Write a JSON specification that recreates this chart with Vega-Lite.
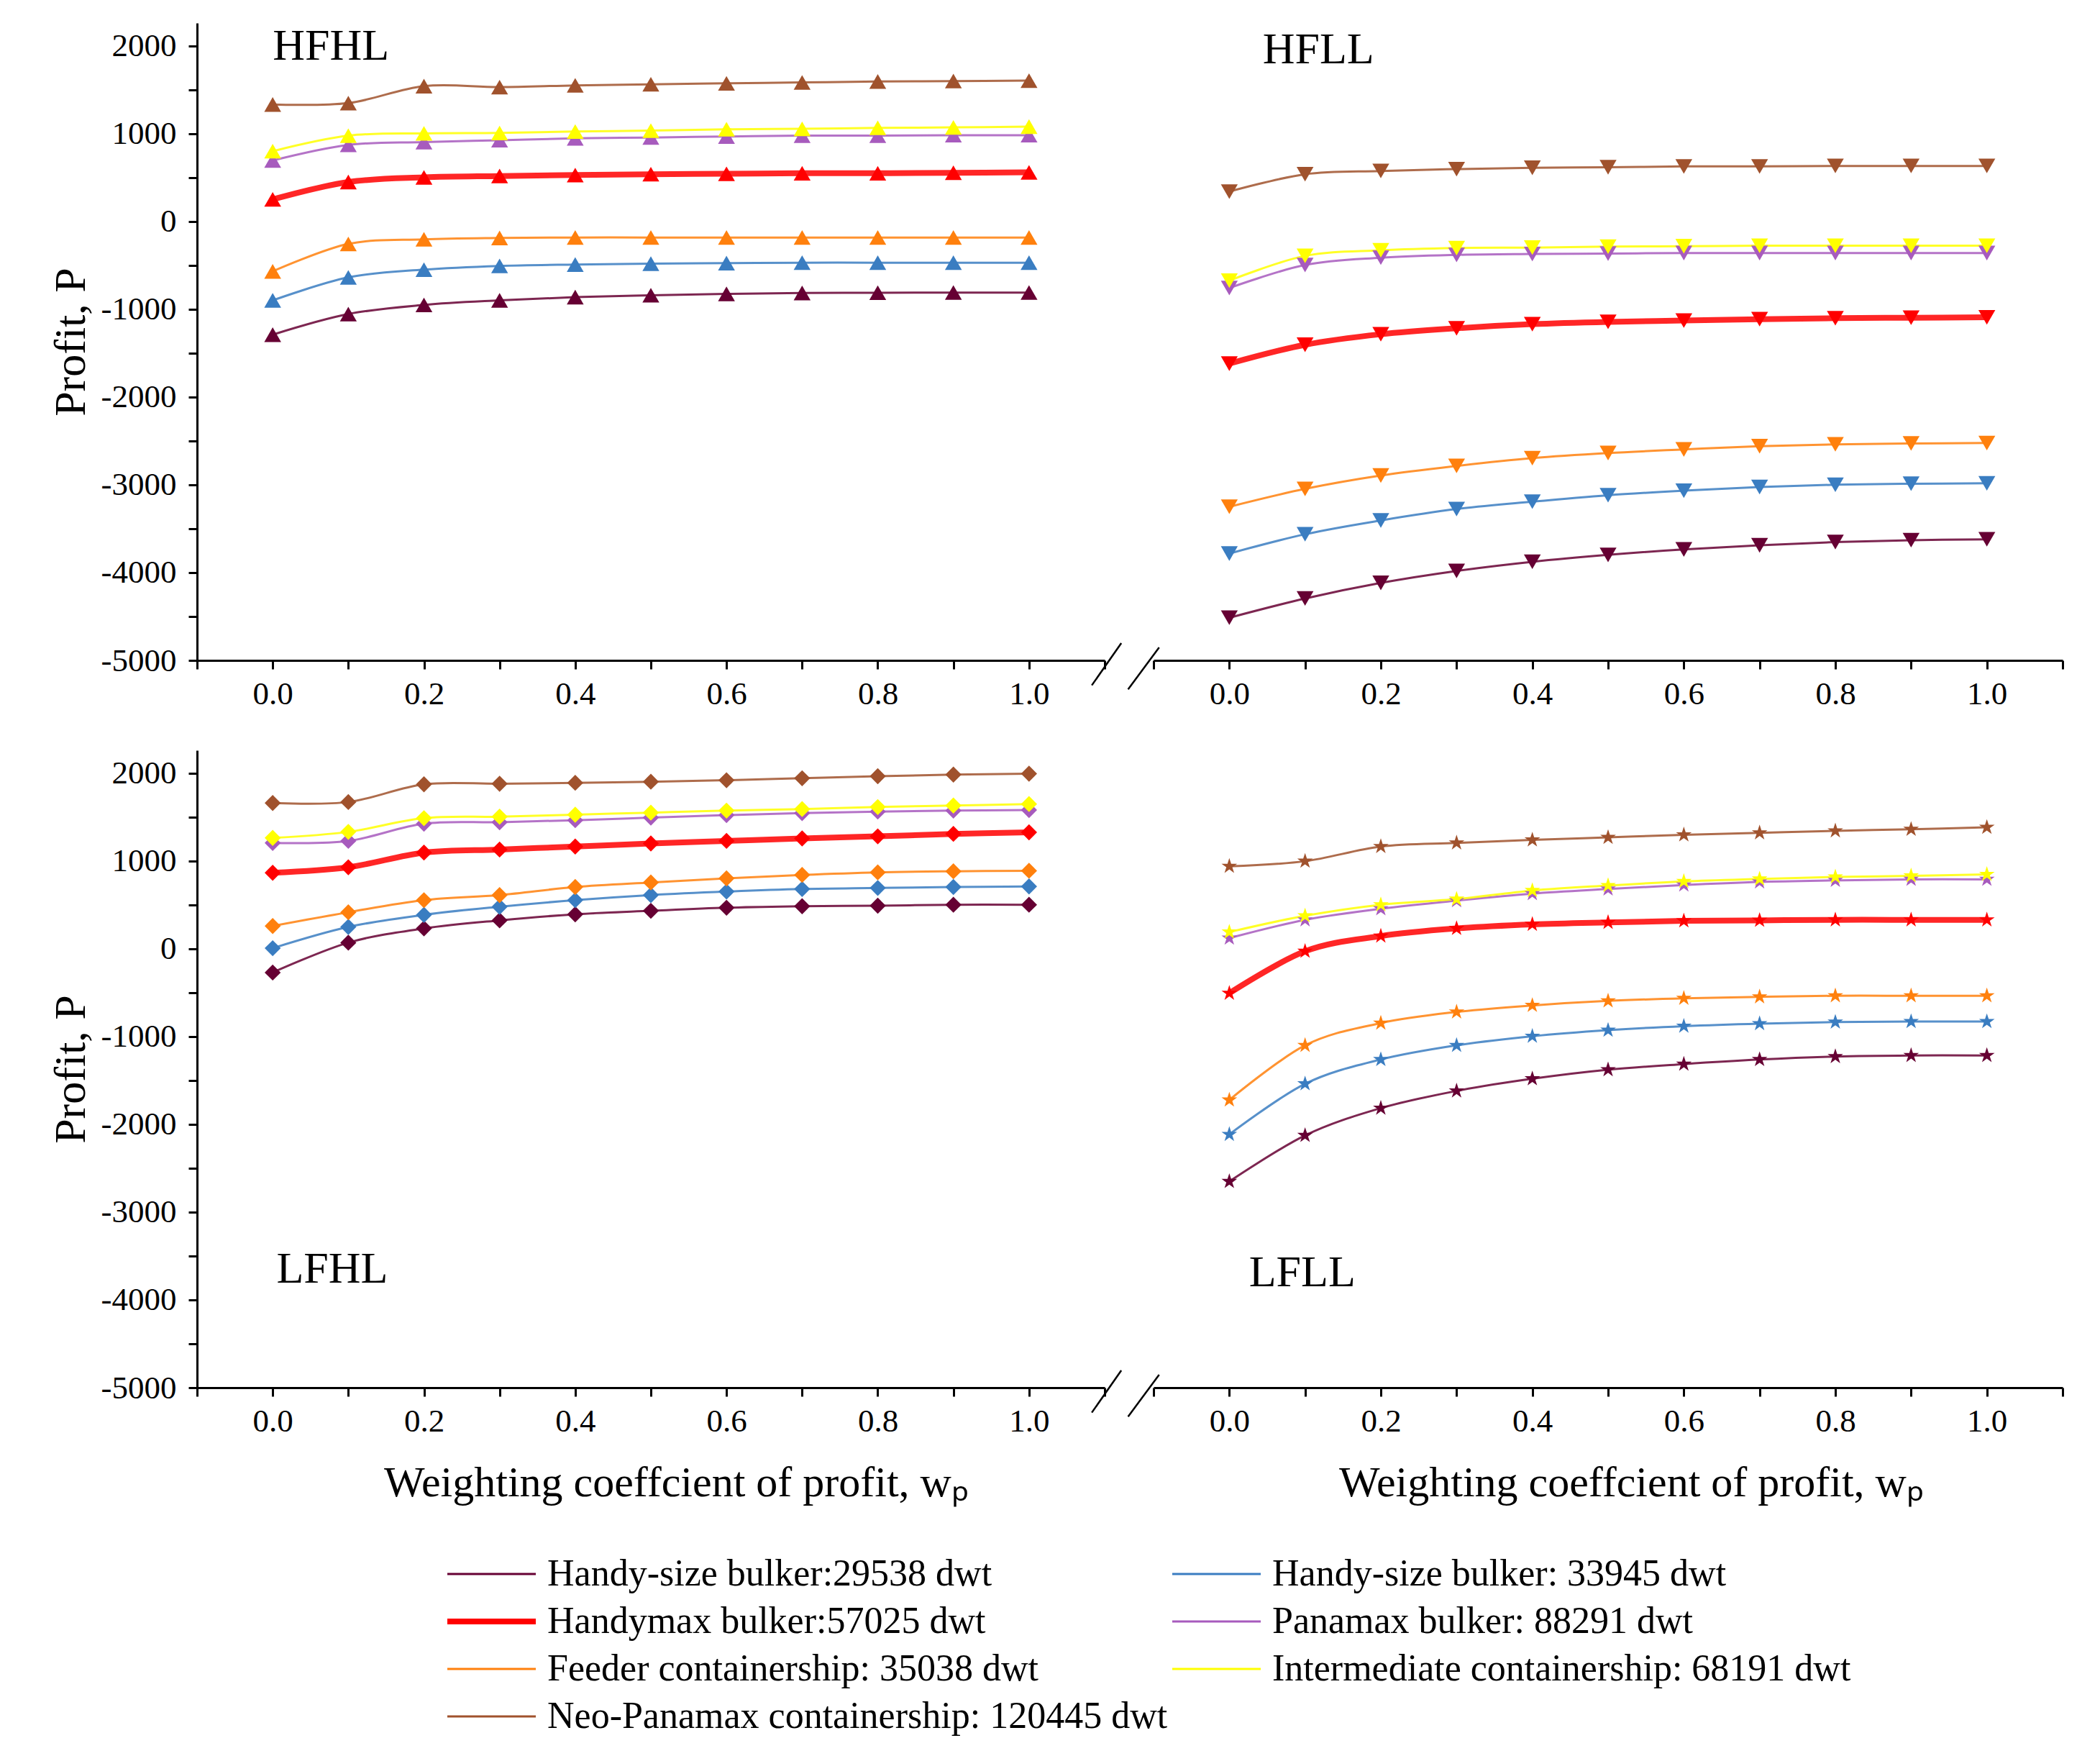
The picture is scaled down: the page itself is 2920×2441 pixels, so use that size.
{
  "$schema": "https://vega.github.io/schema/vega-lite/v6.json",
  "padding": {"left": 67, "top": 32, "right": 50, "bottom": 30},
  "config": {
    "font": "Liberation Serif",
    "view": {"stroke": null},
    "axis": {
      "grid": false,
      "domainColor": "#000",
      "domainWidth": 3,
      "tickColor": "#000",
      "tickWidth": 3,
      "tickSize": 12,
      "labelFont": "Liberation Serif",
      "labelFontSize": 45,
      "labelColor": "#000",
      "labelOverlap": false,
      "titleFont": "Liberation Serif",
      "titleFontSize": 62,
      "titleFontWeight": "normal",
      "titleColor": "#000"
    },
    "axisX": {"labelPadding": 12, "titlePadding": 34},
    "axisY": {"labelPadding": 17, "titlePadding": 10},
    "legend": {
      "orient": "none",
      "legendX": 344,
      "legendY": 2128,
      "columns": 2,
      "symbolType": "stroke",
      "symbolSize": 15129,
      "symbolOpacity": 1,
      "clipHeight": 56,
      "labelFont": "Liberation Serif",
      "labelFontSize": 52,
      "labelColor": "#000",
      "labelLimit": 3000,
      "labelOffset": 12,
      "rowPadding": 10,
      "columnPadding": 2,
      "padding": 0
    }
  },
  "datasets": {
    "profit": [
      {"panel": "HFHL", "series": "Handy-size bulker:29538 dwt", "wp": 0, "profit": -1290},
      {"panel": "HFHL", "series": "Handy-size bulker:29538 dwt", "wp": 0.1, "profit": -1055},
      {"panel": "HFHL", "series": "Handy-size bulker:29538 dwt", "wp": 0.2, "profit": -951},
      {"panel": "HFHL", "series": "Handy-size bulker:29538 dwt", "wp": 0.3, "profit": -899},
      {"panel": "HFHL", "series": "Handy-size bulker:29538 dwt", "wp": 0.4, "profit": -862},
      {"panel": "HFHL", "series": "Handy-size bulker:29538 dwt", "wp": 0.5, "profit": -841},
      {"panel": "HFHL", "series": "Handy-size bulker:29538 dwt", "wp": 0.6, "profit": -825},
      {"panel": "HFHL", "series": "Handy-size bulker:29538 dwt", "wp": 0.7, "profit": -815},
      {"panel": "HFHL", "series": "Handy-size bulker:29538 dwt", "wp": 0.8, "profit": -812},
      {"panel": "HFHL", "series": "Handy-size bulker:29538 dwt", "wp": 0.9, "profit": -810},
      {"panel": "HFHL", "series": "Handy-size bulker:29538 dwt", "wp": 1.0, "profit": -810},
      {"panel": "HFHL", "series": "Handy-size bulker: 33945 dwt", "wp": 0, "profit": -899},
      {"panel": "HFHL", "series": "Handy-size bulker: 33945 dwt", "wp": 0.1, "profit": -637},
      {"panel": "HFHL", "series": "Handy-size bulker: 33945 dwt", "wp": 0.2, "profit": -549},
      {"panel": "HFHL", "series": "Handy-size bulker: 33945 dwt", "wp": 0.3, "profit": -507},
      {"panel": "HFHL", "series": "Handy-size bulker: 33945 dwt", "wp": 0.4, "profit": -491},
      {"panel": "HFHL", "series": "Handy-size bulker: 33945 dwt", "wp": 0.5, "profit": -481},
      {"panel": "HFHL", "series": "Handy-size bulker: 33945 dwt", "wp": 0.6, "profit": -475},
      {"panel": "HFHL", "series": "Handy-size bulker: 33945 dwt", "wp": 0.7, "profit": -470},
      {"panel": "HFHL", "series": "Handy-size bulker: 33945 dwt", "wp": 0.8, "profit": -470},
      {"panel": "HFHL", "series": "Handy-size bulker: 33945 dwt", "wp": 0.9, "profit": -470},
      {"panel": "HFHL", "series": "Handy-size bulker: 33945 dwt", "wp": 1.0, "profit": -470},
      {"panel": "HFHL", "series": "Handymax bulker:57025 dwt", "wp": 0, "profit": 251},
      {"panel": "HFHL", "series": "Handymax bulker:57025 dwt", "wp": 0.1, "profit": 449},
      {"panel": "HFHL", "series": "Handymax bulker:57025 dwt", "wp": 0.2, "profit": 502},
      {"panel": "HFHL", "series": "Handymax bulker:57025 dwt", "wp": 0.3, "profit": 517},
      {"panel": "HFHL", "series": "Handymax bulker:57025 dwt", "wp": 0.4, "profit": 528},
      {"panel": "HFHL", "series": "Handymax bulker:57025 dwt", "wp": 0.5, "profit": 538},
      {"panel": "HFHL", "series": "Handymax bulker:57025 dwt", "wp": 0.6, "profit": 543},
      {"panel": "HFHL", "series": "Handymax bulker:57025 dwt", "wp": 0.7, "profit": 549},
      {"panel": "HFHL", "series": "Handymax bulker:57025 dwt", "wp": 0.8, "profit": 549},
      {"panel": "HFHL", "series": "Handymax bulker:57025 dwt", "wp": 0.9, "profit": 554},
      {"panel": "HFHL", "series": "Handymax bulker:57025 dwt", "wp": 1.0, "profit": 559},
      {"panel": "HFHL", "series": "Panamax bulker: 88291 dwt", "wp": 0, "profit": 695},
      {"panel": "HFHL", "series": "Panamax bulker: 88291 dwt", "wp": 0.1, "profit": 872},
      {"panel": "HFHL", "series": "Panamax bulker: 88291 dwt", "wp": 0.2, "profit": 904},
      {"panel": "HFHL", "series": "Panamax bulker: 88291 dwt", "wp": 0.3, "profit": 925},
      {"panel": "HFHL", "series": "Panamax bulker: 88291 dwt", "wp": 0.4, "profit": 946},
      {"panel": "HFHL", "series": "Panamax bulker: 88291 dwt", "wp": 0.5, "profit": 956},
      {"panel": "HFHL", "series": "Panamax bulker: 88291 dwt", "wp": 0.6, "profit": 967},
      {"panel": "HFHL", "series": "Panamax bulker: 88291 dwt", "wp": 0.7, "profit": 977},
      {"panel": "HFHL", "series": "Panamax bulker: 88291 dwt", "wp": 0.8, "profit": 977},
      {"panel": "HFHL", "series": "Panamax bulker: 88291 dwt", "wp": 0.9, "profit": 982},
      {"panel": "HFHL", "series": "Panamax bulker: 88291 dwt", "wp": 1.0, "profit": 982},
      {"panel": "HFHL", "series": "Feeder containership: 35038 dwt", "wp": 0, "profit": -569},
      {"panel": "HFHL", "series": "Feeder containership: 35038 dwt", "wp": 0.1, "profit": -256},
      {"panel": "HFHL", "series": "Feeder containership: 35038 dwt", "wp": 0.2, "profit": -204},
      {"panel": "HFHL", "series": "Feeder containership: 35038 dwt", "wp": 0.3, "profit": -188},
      {"panel": "HFHL", "series": "Feeder containership: 35038 dwt", "wp": 0.4, "profit": -183},
      {"panel": "HFHL", "series": "Feeder containership: 35038 dwt", "wp": 0.5, "profit": -183},
      {"panel": "HFHL", "series": "Feeder containership: 35038 dwt", "wp": 0.6, "profit": -183},
      {"panel": "HFHL", "series": "Feeder containership: 35038 dwt", "wp": 0.7, "profit": -183},
      {"panel": "HFHL", "series": "Feeder containership: 35038 dwt", "wp": 0.8, "profit": -183},
      {"panel": "HFHL", "series": "Feeder containership: 35038 dwt", "wp": 0.9, "profit": -183},
      {"panel": "HFHL", "series": "Feeder containership: 35038 dwt", "wp": 1.0, "profit": -183},
      {"panel": "HFHL", "series": "Intermediate containership: 68191 dwt", "wp": 0, "profit": 800},
      {"panel": "HFHL", "series": "Intermediate containership: 68191 dwt", "wp": 0.1, "profit": 977},
      {"panel": "HFHL", "series": "Intermediate containership: 68191 dwt", "wp": 0.2, "profit": 1003},
      {"panel": "HFHL", "series": "Intermediate containership: 68191 dwt", "wp": 0.3, "profit": 1008},
      {"panel": "HFHL", "series": "Intermediate containership: 68191 dwt", "wp": 0.4, "profit": 1024},
      {"panel": "HFHL", "series": "Intermediate containership: 68191 dwt", "wp": 0.5, "profit": 1034},
      {"panel": "HFHL", "series": "Intermediate containership: 68191 dwt", "wp": 0.6, "profit": 1050},
      {"panel": "HFHL", "series": "Intermediate containership: 68191 dwt", "wp": 0.7, "profit": 1055},
      {"panel": "HFHL", "series": "Intermediate containership: 68191 dwt", "wp": 0.8, "profit": 1066},
      {"panel": "HFHL", "series": "Intermediate containership: 68191 dwt", "wp": 0.9, "profit": 1071},
      {"panel": "HFHL", "series": "Intermediate containership: 68191 dwt", "wp": 1.0, "profit": 1080},
      {"panel": "HFHL", "series": "Neo-Panamax containership: 120445 dwt", "wp": 0, "profit": 1332},
      {"panel": "HFHL", "series": "Neo-Panamax containership: 120445 dwt", "wp": 0.1, "profit": 1348},
      {"panel": "HFHL", "series": "Neo-Panamax containership: 120445 dwt", "wp": 0.2, "profit": 1541},
      {"panel": "HFHL", "series": "Neo-Panamax containership: 120445 dwt", "wp": 0.3, "profit": 1530},
      {"panel": "HFHL", "series": "Neo-Panamax containership: 120445 dwt", "wp": 0.4, "profit": 1550},
      {"panel": "HFHL", "series": "Neo-Panamax containership: 120445 dwt", "wp": 0.5, "profit": 1562},
      {"panel": "HFHL", "series": "Neo-Panamax containership: 120445 dwt", "wp": 0.6, "profit": 1573},
      {"panel": "HFHL", "series": "Neo-Panamax containership: 120445 dwt", "wp": 0.7, "profit": 1583},
      {"panel": "HFHL", "series": "Neo-Panamax containership: 120445 dwt", "wp": 0.8, "profit": 1594},
      {"panel": "HFHL", "series": "Neo-Panamax containership: 120445 dwt", "wp": 0.9, "profit": 1599},
      {"panel": "HFHL", "series": "Neo-Panamax containership: 120445 dwt", "wp": 1.0, "profit": 1604},

      {"panel": "HFLL", "series": "Handy-size bulker:29538 dwt", "wp": 0, "profit": -4514},
      {"panel": "HFLL", "series": "Handy-size bulker:29538 dwt", "wp": 0.1, "profit": -4295},
      {"panel": "HFLL", "series": "Handy-size bulker:29538 dwt", "wp": 0.2, "profit": -4117},
      {"panel": "HFLL", "series": "Handy-size bulker:29538 dwt", "wp": 0.3, "profit": -3981},
      {"panel": "HFLL", "series": "Handy-size bulker:29538 dwt", "wp": 0.4, "profit": -3877},
      {"panel": "HFLL", "series": "Handy-size bulker:29538 dwt", "wp": 0.5, "profit": -3798},
      {"panel": "HFLL", "series": "Handy-size bulker:29538 dwt", "wp": 0.6, "profit": -3736},
      {"panel": "HFLL", "series": "Handy-size bulker:29538 dwt", "wp": 0.7, "profit": -3689},
      {"panel": "HFLL", "series": "Handy-size bulker:29538 dwt", "wp": 0.8, "profit": -3652},
      {"panel": "HFLL", "series": "Handy-size bulker:29538 dwt", "wp": 0.9, "profit": -3631},
      {"panel": "HFLL", "series": "Handy-size bulker:29538 dwt", "wp": 1.0, "profit": -3621},
      {"panel": "HFLL", "series": "Handy-size bulker: 33945 dwt", "wp": 0, "profit": -3783},
      {"panel": "HFLL", "series": "Handy-size bulker: 33945 dwt", "wp": 0.1, "profit": -3563},
      {"panel": "HFLL", "series": "Handy-size bulker: 33945 dwt", "wp": 0.2, "profit": -3406},
      {"panel": "HFLL", "series": "Handy-size bulker: 33945 dwt", "wp": 0.3, "profit": -3276},
      {"panel": "HFLL", "series": "Handy-size bulker: 33945 dwt", "wp": 0.4, "profit": -3192},
      {"panel": "HFLL", "series": "Handy-size bulker: 33945 dwt", "wp": 0.5, "profit": -3119},
      {"panel": "HFLL", "series": "Handy-size bulker: 33945 dwt", "wp": 0.6, "profit": -3067},
      {"panel": "HFLL", "series": "Handy-size bulker: 33945 dwt", "wp": 0.7, "profit": -3025},
      {"panel": "HFLL", "series": "Handy-size bulker: 33945 dwt", "wp": 0.8, "profit": -2999},
      {"panel": "HFLL", "series": "Handy-size bulker: 33945 dwt", "wp": 0.9, "profit": -2988},
      {"panel": "HFLL", "series": "Handy-size bulker: 33945 dwt", "wp": 1.0, "profit": -2983},
      {"panel": "HFLL", "series": "Handymax bulker:57025 dwt", "wp": 0, "profit": -1620},
      {"panel": "HFLL", "series": "Handymax bulker:57025 dwt", "wp": 0.1, "profit": -1405},
      {"panel": "HFLL", "series": "Handymax bulker:57025 dwt", "wp": 0.2, "profit": -1285},
      {"panel": "HFLL", "series": "Handymax bulker:57025 dwt", "wp": 0.3, "profit": -1217},
      {"panel": "HFLL", "series": "Handymax bulker:57025 dwt", "wp": 0.4, "profit": -1170},
      {"panel": "HFLL", "series": "Handymax bulker:57025 dwt", "wp": 0.5, "profit": -1144},
      {"panel": "HFLL", "series": "Handymax bulker:57025 dwt", "wp": 0.6, "profit": -1129},
      {"panel": "HFLL", "series": "Handymax bulker:57025 dwt", "wp": 0.7, "profit": -1113},
      {"panel": "HFLL", "series": "Handymax bulker:57025 dwt", "wp": 0.8, "profit": -1102},
      {"panel": "HFLL", "series": "Handymax bulker:57025 dwt", "wp": 0.9, "profit": -1097},
      {"panel": "HFLL", "series": "Handymax bulker:57025 dwt", "wp": 1.0, "profit": -1092},
      {"panel": "HFLL", "series": "Panamax bulker: 88291 dwt", "wp": 0, "profit": -758},
      {"panel": "HFLL", "series": "Panamax bulker: 88291 dwt", "wp": 0.1, "profit": -496},
      {"panel": "HFLL", "series": "Panamax bulker: 88291 dwt", "wp": 0.2, "profit": -413},
      {"panel": "HFLL", "series": "Panamax bulker: 88291 dwt", "wp": 0.3, "profit": -381},
      {"panel": "HFLL", "series": "Panamax bulker: 88291 dwt", "wp": 0.4, "profit": -371},
      {"panel": "HFLL", "series": "Panamax bulker: 88291 dwt", "wp": 0.5, "profit": -366},
      {"panel": "HFLL", "series": "Panamax bulker: 88291 dwt", "wp": 0.6, "profit": -360},
      {"panel": "HFLL", "series": "Panamax bulker: 88291 dwt", "wp": 0.7, "profit": -360},
      {"panel": "HFLL", "series": "Panamax bulker: 88291 dwt", "wp": 0.8, "profit": -360},
      {"panel": "HFLL", "series": "Panamax bulker: 88291 dwt", "wp": 0.9, "profit": -360},
      {"panel": "HFLL", "series": "Panamax bulker: 88291 dwt", "wp": 1.0, "profit": -360},
      {"panel": "HFLL", "series": "Feeder containership: 35038 dwt", "wp": 0, "profit": -3250},
      {"panel": "HFLL", "series": "Feeder containership: 35038 dwt", "wp": 0.1, "profit": -3046},
      {"panel": "HFLL", "series": "Feeder containership: 35038 dwt", "wp": 0.2, "profit": -2894},
      {"panel": "HFLL", "series": "Feeder containership: 35038 dwt", "wp": 0.3, "profit": -2785},
      {"panel": "HFLL", "series": "Feeder containership: 35038 dwt", "wp": 0.4, "profit": -2696},
      {"panel": "HFLL", "series": "Feeder containership: 35038 dwt", "wp": 0.5, "profit": -2638},
      {"panel": "HFLL", "series": "Feeder containership: 35038 dwt", "wp": 0.6, "profit": -2597},
      {"panel": "HFLL", "series": "Feeder containership: 35038 dwt", "wp": 0.7, "profit": -2560},
      {"panel": "HFLL", "series": "Feeder containership: 35038 dwt", "wp": 0.8, "profit": -2539},
      {"panel": "HFLL", "series": "Feeder containership: 35038 dwt", "wp": 0.9, "profit": -2529},
      {"panel": "HFLL", "series": "Feeder containership: 35038 dwt", "wp": 1.0, "profit": -2524},
      {"panel": "HFLL", "series": "Intermediate containership: 68191 dwt", "wp": 0, "profit": -674},
      {"panel": "HFLL", "series": "Intermediate containership: 68191 dwt", "wp": 0.1, "profit": -392},
      {"panel": "HFLL", "series": "Intermediate containership: 68191 dwt", "wp": 0.2, "profit": -329},
      {"panel": "HFLL", "series": "Intermediate containership: 68191 dwt", "wp": 0.3, "profit": -303},
      {"panel": "HFLL", "series": "Intermediate containership: 68191 dwt", "wp": 0.4, "profit": -298},
      {"panel": "HFLL", "series": "Intermediate containership: 68191 dwt", "wp": 0.5, "profit": -287},
      {"panel": "HFLL", "series": "Intermediate containership: 68191 dwt", "wp": 0.6, "profit": -282},
      {"panel": "HFLL", "series": "Intermediate containership: 68191 dwt", "wp": 0.7, "profit": -277},
      {"panel": "HFLL", "series": "Intermediate containership: 68191 dwt", "wp": 0.8, "profit": -277},
      {"panel": "HFLL", "series": "Intermediate containership: 68191 dwt", "wp": 0.9, "profit": -277},
      {"panel": "HFLL", "series": "Intermediate containership: 68191 dwt", "wp": 1.0, "profit": -277},
      {"panel": "HFLL", "series": "Neo-Panamax containership: 120445 dwt", "wp": 0, "profit": 340},
      {"panel": "HFLL", "series": "Neo-Panamax containership: 120445 dwt", "wp": 0.1, "profit": 538},
      {"panel": "HFLL", "series": "Neo-Panamax containership: 120445 dwt", "wp": 0.2, "profit": 575},
      {"panel": "HFLL", "series": "Neo-Panamax containership: 120445 dwt", "wp": 0.3, "profit": 596},
      {"panel": "HFLL", "series": "Neo-Panamax containership: 120445 dwt", "wp": 0.4, "profit": 611},
      {"panel": "HFLL", "series": "Neo-Panamax containership: 120445 dwt", "wp": 0.5, "profit": 617},
      {"panel": "HFLL", "series": "Neo-Panamax containership: 120445 dwt", "wp": 0.6, "profit": 627},
      {"panel": "HFLL", "series": "Neo-Panamax containership: 120445 dwt", "wp": 0.7, "profit": 627},
      {"panel": "HFLL", "series": "Neo-Panamax containership: 120445 dwt", "wp": 0.8, "profit": 632},
      {"panel": "HFLL", "series": "Neo-Panamax containership: 120445 dwt", "wp": 0.9, "profit": 632},
      {"panel": "HFLL", "series": "Neo-Panamax containership: 120445 dwt", "wp": 1.0, "profit": 632},

      {"panel": "LFHL", "series": "Handy-size bulker:29538 dwt", "wp": 0, "profit": -271},
      {"panel": "LFHL", "series": "Handy-size bulker:29538 dwt", "wp": 0.1, "profit": 69},
      {"panel": "LFHL", "series": "Handy-size bulker:29538 dwt", "wp": 0.2, "profit": 231},
      {"panel": "LFHL", "series": "Handy-size bulker:29538 dwt", "wp": 0.3, "profit": 323},
      {"panel": "LFHL", "series": "Handy-size bulker:29538 dwt", "wp": 0.4, "profit": 392},
      {"panel": "LFHL", "series": "Handy-size bulker:29538 dwt", "wp": 0.5, "profit": 432},
      {"panel": "LFHL", "series": "Handy-size bulker:29538 dwt", "wp": 0.6, "profit": 467},
      {"panel": "LFHL", "series": "Handy-size bulker:29538 dwt", "wp": 0.7, "profit": 484},
      {"panel": "LFHL", "series": "Handy-size bulker:29538 dwt", "wp": 0.8, "profit": 490},
      {"panel": "LFHL", "series": "Handy-size bulker:29538 dwt", "wp": 0.9, "profit": 501},
      {"panel": "LFHL", "series": "Handy-size bulker:29538 dwt", "wp": 1.0, "profit": 501},
      {"panel": "LFHL", "series": "Handy-size bulker: 33945 dwt", "wp": 0, "profit": 6},
      {"panel": "LFHL", "series": "Handy-size bulker: 33945 dwt", "wp": 0.1, "profit": 248},
      {"panel": "LFHL", "series": "Handy-size bulker: 33945 dwt", "wp": 0.2, "profit": 386},
      {"panel": "LFHL", "series": "Handy-size bulker: 33945 dwt", "wp": 0.3, "profit": 478},
      {"panel": "LFHL", "series": "Handy-size bulker: 33945 dwt", "wp": 0.4, "profit": 553},
      {"panel": "LFHL", "series": "Handy-size bulker: 33945 dwt", "wp": 0.5, "profit": 611},
      {"panel": "LFHL", "series": "Handy-size bulker: 33945 dwt", "wp": 0.6, "profit": 651},
      {"panel": "LFHL", "series": "Handy-size bulker: 33945 dwt", "wp": 0.7, "profit": 680},
      {"panel": "LFHL", "series": "Handy-size bulker: 33945 dwt", "wp": 0.8, "profit": 692},
      {"panel": "LFHL", "series": "Handy-size bulker: 33945 dwt", "wp": 0.9, "profit": 703},
      {"panel": "LFHL", "series": "Handy-size bulker: 33945 dwt", "wp": 1.0, "profit": 709},
      {"panel": "LFHL", "series": "Handymax bulker:57025 dwt", "wp": 0, "profit": 865},
      {"panel": "LFHL", "series": "Handymax bulker:57025 dwt", "wp": 0.1, "profit": 928},
      {"panel": "LFHL", "series": "Handymax bulker:57025 dwt", "wp": 0.2, "profit": 1095},
      {"panel": "LFHL", "series": "Handymax bulker:57025 dwt", "wp": 0.3, "profit": 1130},
      {"panel": "LFHL", "series": "Handymax bulker:57025 dwt", "wp": 0.4, "profit": 1164},
      {"panel": "LFHL", "series": "Handymax bulker:57025 dwt", "wp": 0.5, "profit": 1199},
      {"panel": "LFHL", "series": "Handymax bulker:57025 dwt", "wp": 0.6, "profit": 1228},
      {"panel": "LFHL", "series": "Handymax bulker:57025 dwt", "wp": 0.7, "profit": 1256},
      {"panel": "LFHL", "series": "Handymax bulker:57025 dwt", "wp": 0.8, "profit": 1280},
      {"panel": "LFHL", "series": "Handymax bulker:57025 dwt", "wp": 0.9, "profit": 1308},
      {"panel": "LFHL", "series": "Handymax bulker:57025 dwt", "wp": 1.0, "profit": 1326},
      {"panel": "LFHL", "series": "Panamax bulker: 88291 dwt", "wp": 0, "profit": 1205},
      {"panel": "LFHL", "series": "Panamax bulker: 88291 dwt", "wp": 0.1, "profit": 1228},
      {"panel": "LFHL", "series": "Panamax bulker: 88291 dwt", "wp": 0.2, "profit": 1424},
      {"panel": "LFHL", "series": "Panamax bulker: 88291 dwt", "wp": 0.3, "profit": 1441},
      {"panel": "LFHL", "series": "Panamax bulker: 88291 dwt", "wp": 0.4, "profit": 1464},
      {"panel": "LFHL", "series": "Panamax bulker: 88291 dwt", "wp": 0.5, "profit": 1493},
      {"panel": "LFHL", "series": "Panamax bulker: 88291 dwt", "wp": 0.6, "profit": 1522},
      {"panel": "LFHL", "series": "Panamax bulker: 88291 dwt", "wp": 0.7, "profit": 1545},
      {"panel": "LFHL", "series": "Panamax bulker: 88291 dwt", "wp": 0.8, "profit": 1562},
      {"panel": "LFHL", "series": "Panamax bulker: 88291 dwt", "wp": 0.9, "profit": 1573},
      {"panel": "LFHL", "series": "Panamax bulker: 88291 dwt", "wp": 1.0, "profit": 1580},
      {"panel": "LFHL", "series": "Feeder containership: 35038 dwt", "wp": 0, "profit": 259},
      {"panel": "LFHL", "series": "Feeder containership: 35038 dwt", "wp": 0.1, "profit": 415},
      {"panel": "LFHL", "series": "Feeder containership: 35038 dwt", "wp": 0.2, "profit": 553},
      {"panel": "LFHL", "series": "Feeder containership: 35038 dwt", "wp": 0.3, "profit": 611},
      {"panel": "LFHL", "series": "Feeder containership: 35038 dwt", "wp": 0.4, "profit": 703},
      {"panel": "LFHL", "series": "Feeder containership: 35038 dwt", "wp": 0.5, "profit": 755},
      {"panel": "LFHL", "series": "Feeder containership: 35038 dwt", "wp": 0.6, "profit": 801},
      {"panel": "LFHL", "series": "Feeder containership: 35038 dwt", "wp": 0.7, "profit": 841},
      {"panel": "LFHL", "series": "Feeder containership: 35038 dwt", "wp": 0.8, "profit": 870},
      {"panel": "LFHL", "series": "Feeder containership: 35038 dwt", "wp": 0.9, "profit": 882},
      {"panel": "LFHL", "series": "Feeder containership: 35038 dwt", "wp": 1.0, "profit": 888},
      {"panel": "LFHL", "series": "Intermediate containership: 68191 dwt", "wp": 0, "profit": 1262},
      {"panel": "LFHL", "series": "Intermediate containership: 68191 dwt", "wp": 0.1, "profit": 1331},
      {"panel": "LFHL", "series": "Intermediate containership: 68191 dwt", "wp": 0.2, "profit": 1487},
      {"panel": "LFHL", "series": "Intermediate containership: 68191 dwt", "wp": 0.3, "profit": 1504},
      {"panel": "LFHL", "series": "Intermediate containership: 68191 dwt", "wp": 0.4, "profit": 1527},
      {"panel": "LFHL", "series": "Intermediate containership: 68191 dwt", "wp": 0.5, "profit": 1550},
      {"panel": "LFHL", "series": "Intermediate containership: 68191 dwt", "wp": 0.6, "profit": 1573},
      {"panel": "LFHL", "series": "Intermediate containership: 68191 dwt", "wp": 0.7, "profit": 1591},
      {"panel": "LFHL", "series": "Intermediate containership: 68191 dwt", "wp": 0.8, "profit": 1614},
      {"panel": "LFHL", "series": "Intermediate containership: 68191 dwt", "wp": 0.9, "profit": 1631},
      {"panel": "LFHL", "series": "Intermediate containership: 68191 dwt", "wp": 1.0, "profit": 1648},
      {"panel": "LFHL", "series": "Neo-Panamax containership: 120445 dwt", "wp": 0, "profit": 1660},
      {"panel": "LFHL", "series": "Neo-Panamax containership: 120445 dwt", "wp": 0.1, "profit": 1671},
      {"panel": "LFHL", "series": "Neo-Panamax containership: 120445 dwt", "wp": 0.2, "profit": 1873},
      {"panel": "LFHL", "series": "Neo-Panamax containership: 120445 dwt", "wp": 0.3, "profit": 1879},
      {"panel": "LFHL", "series": "Neo-Panamax containership: 120445 dwt", "wp": 0.4, "profit": 1890},
      {"panel": "LFHL", "series": "Neo-Panamax containership: 120445 dwt", "wp": 0.5, "profit": 1902},
      {"panel": "LFHL", "series": "Neo-Panamax containership: 120445 dwt", "wp": 0.6, "profit": 1919},
      {"panel": "LFHL", "series": "Neo-Panamax containership: 120445 dwt", "wp": 0.7, "profit": 1942},
      {"panel": "LFHL", "series": "Neo-Panamax containership: 120445 dwt", "wp": 0.8, "profit": 1965},
      {"panel": "LFHL", "series": "Neo-Panamax containership: 120445 dwt", "wp": 0.9, "profit": 1983},
      {"panel": "LFHL", "series": "Neo-Panamax containership: 120445 dwt", "wp": 1.0, "profit": 1994},

      {"panel": "LFLL", "series": "Handy-size bulker:29538 dwt", "wp": 0, "profit": -2651},
      {"panel": "LFLL", "series": "Handy-size bulker:29538 dwt", "wp": 0.1, "profit": -2127},
      {"panel": "LFLL", "series": "Handy-size bulker:29538 dwt", "wp": 0.2, "profit": -1816},
      {"panel": "LFLL", "series": "Handy-size bulker:29538 dwt", "wp": 0.3, "profit": -1620},
      {"panel": "LFLL", "series": "Handy-size bulker:29538 dwt", "wp": 0.4, "profit": -1481},
      {"panel": "LFLL", "series": "Handy-size bulker:29538 dwt", "wp": 0.5, "profit": -1378},
      {"panel": "LFLL", "series": "Handy-size bulker:29538 dwt", "wp": 0.6, "profit": -1314},
      {"panel": "LFLL", "series": "Handy-size bulker:29538 dwt", "wp": 0.7, "profit": -1262},
      {"panel": "LFLL", "series": "Handy-size bulker:29538 dwt", "wp": 0.8, "profit": -1228},
      {"panel": "LFLL", "series": "Handy-size bulker:29538 dwt", "wp": 0.9, "profit": -1216},
      {"panel": "LFLL", "series": "Handy-size bulker:29538 dwt", "wp": 1.0, "profit": -1216},
      {"panel": "LFLL", "series": "Handy-size bulker: 33945 dwt", "wp": 0, "profit": -2115},
      {"panel": "LFLL", "series": "Handy-size bulker: 33945 dwt", "wp": 0.1, "profit": -1539},
      {"panel": "LFLL", "series": "Handy-size bulker: 33945 dwt", "wp": 0.2, "profit": -1262},
      {"panel": "LFLL", "series": "Handy-size bulker: 33945 dwt", "wp": 0.3, "profit": -1101},
      {"panel": "LFLL", "series": "Handy-size bulker: 33945 dwt", "wp": 0.4, "profit": -997},
      {"panel": "LFLL", "series": "Handy-size bulker: 33945 dwt", "wp": 0.5, "profit": -928},
      {"panel": "LFLL", "series": "Handy-size bulker: 33945 dwt", "wp": 0.6, "profit": -882},
      {"panel": "LFLL", "series": "Handy-size bulker: 33945 dwt", "wp": 0.7, "profit": -853},
      {"panel": "LFLL", "series": "Handy-size bulker: 33945 dwt", "wp": 0.8, "profit": -836},
      {"panel": "LFLL", "series": "Handy-size bulker: 33945 dwt", "wp": 0.9, "profit": -830},
      {"panel": "LFLL", "series": "Handy-size bulker: 33945 dwt", "wp": 1.0, "profit": -830},
      {"panel": "LFLL", "series": "Handymax bulker:57025 dwt", "wp": 0, "profit": -507},
      {"panel": "LFLL", "series": "Handymax bulker:57025 dwt", "wp": 0.1, "profit": -29},
      {"panel": "LFLL", "series": "Handymax bulker:57025 dwt", "wp": 0.2, "profit": 144},
      {"panel": "LFLL", "series": "Handymax bulker:57025 dwt", "wp": 0.3, "profit": 231},
      {"panel": "LFLL", "series": "Handymax bulker:57025 dwt", "wp": 0.4, "profit": 277},
      {"panel": "LFLL", "series": "Handymax bulker:57025 dwt", "wp": 0.5, "profit": 300},
      {"panel": "LFLL", "series": "Handymax bulker:57025 dwt", "wp": 0.6, "profit": 317},
      {"panel": "LFLL", "series": "Handymax bulker:57025 dwt", "wp": 0.7, "profit": 323},
      {"panel": "LFLL", "series": "Handymax bulker:57025 dwt", "wp": 0.8, "profit": 329},
      {"panel": "LFLL", "series": "Handymax bulker:57025 dwt", "wp": 0.9, "profit": 329},
      {"panel": "LFLL", "series": "Handymax bulker:57025 dwt", "wp": 1.0, "profit": 329},
      {"panel": "LFLL", "series": "Panamax bulker: 88291 dwt", "wp": 0, "profit": 121},
      {"panel": "LFLL", "series": "Panamax bulker: 88291 dwt", "wp": 0.1, "profit": 329},
      {"panel": "LFLL", "series": "Panamax bulker: 88291 dwt", "wp": 0.2, "profit": 455},
      {"panel": "LFLL", "series": "Panamax bulker: 88291 dwt", "wp": 0.3, "profit": 548},
      {"panel": "LFLL", "series": "Panamax bulker: 88291 dwt", "wp": 0.4, "profit": 628},
      {"panel": "LFLL", "series": "Panamax bulker: 88291 dwt", "wp": 0.5, "profit": 680},
      {"panel": "LFLL", "series": "Panamax bulker: 88291 dwt", "wp": 0.6, "profit": 726},
      {"panel": "LFLL", "series": "Panamax bulker: 88291 dwt", "wp": 0.7, "profit": 761},
      {"panel": "LFLL", "series": "Panamax bulker: 88291 dwt", "wp": 0.8, "profit": 778},
      {"panel": "LFLL", "series": "Panamax bulker: 88291 dwt", "wp": 0.9, "profit": 790},
      {"panel": "LFLL", "series": "Panamax bulker: 88291 dwt", "wp": 1.0, "profit": 790},
      {"panel": "LFLL", "series": "Feeder containership: 35038 dwt", "wp": 0, "profit": -1723},
      {"panel": "LFLL", "series": "Feeder containership: 35038 dwt", "wp": 0.1, "profit": -1101},
      {"panel": "LFLL", "series": "Feeder containership: 35038 dwt", "wp": 0.2, "profit": -847},
      {"panel": "LFLL", "series": "Feeder containership: 35038 dwt", "wp": 0.3, "profit": -720},
      {"panel": "LFLL", "series": "Feeder containership: 35038 dwt", "wp": 0.4, "profit": -646},
      {"panel": "LFLL", "series": "Feeder containership: 35038 dwt", "wp": 0.5, "profit": -594},
      {"panel": "LFLL", "series": "Feeder containership: 35038 dwt", "wp": 0.6, "profit": -565},
      {"panel": "LFLL", "series": "Feeder containership: 35038 dwt", "wp": 0.7, "profit": -548},
      {"panel": "LFLL", "series": "Feeder containership: 35038 dwt", "wp": 0.8, "profit": -536},
      {"panel": "LFLL", "series": "Feeder containership: 35038 dwt", "wp": 0.9, "profit": -536},
      {"panel": "LFLL", "series": "Feeder containership: 35038 dwt", "wp": 1.0, "profit": -536},
      {"panel": "LFLL", "series": "Intermediate containership: 68191 dwt", "wp": 0, "profit": 190},
      {"panel": "LFLL", "series": "Intermediate containership: 68191 dwt", "wp": 0.1, "profit": 375},
      {"panel": "LFLL", "series": "Intermediate containership: 68191 dwt", "wp": 0.2, "profit": 501},
      {"panel": "LFLL", "series": "Intermediate containership: 68191 dwt", "wp": 0.3, "profit": 565},
      {"panel": "LFLL", "series": "Intermediate containership: 68191 dwt", "wp": 0.4, "profit": 663},
      {"panel": "LFLL", "series": "Intermediate containership: 68191 dwt", "wp": 0.5, "profit": 720},
      {"panel": "LFLL", "series": "Intermediate containership: 68191 dwt", "wp": 0.6, "profit": 767},
      {"panel": "LFLL", "series": "Intermediate containership: 68191 dwt", "wp": 0.7, "profit": 795},
      {"panel": "LFLL", "series": "Intermediate containership: 68191 dwt", "wp": 0.8, "profit": 818},
      {"panel": "LFLL", "series": "Intermediate containership: 68191 dwt", "wp": 0.9, "profit": 830},
      {"panel": "LFLL", "series": "Intermediate containership: 68191 dwt", "wp": 1.0, "profit": 847},
      {"panel": "LFLL", "series": "Neo-Panamax containership: 120445 dwt", "wp": 0, "profit": 939},
      {"panel": "LFLL", "series": "Neo-Panamax containership: 120445 dwt", "wp": 0.1, "profit": 997},
      {"panel": "LFLL", "series": "Neo-Panamax containership: 120445 dwt", "wp": 0.2, "profit": 1164},
      {"panel": "LFLL", "series": "Neo-Panamax containership: 120445 dwt", "wp": 0.3, "profit": 1205},
      {"panel": "LFLL", "series": "Neo-Panamax containership: 120445 dwt", "wp": 0.4, "profit": 1239},
      {"panel": "LFLL", "series": "Neo-Panamax containership: 120445 dwt", "wp": 0.5, "profit": 1268},
      {"panel": "LFLL", "series": "Neo-Panamax containership: 120445 dwt", "wp": 0.6, "profit": 1297},
      {"panel": "LFLL", "series": "Neo-Panamax containership: 120445 dwt", "wp": 0.7, "profit": 1320},
      {"panel": "LFLL", "series": "Neo-Panamax containership: 120445 dwt", "wp": 0.8, "profit": 1343},
      {"panel": "LFLL", "series": "Neo-Panamax containership: 120445 dwt", "wp": 0.9, "profit": 1360},
      {"panel": "LFLL", "series": "Neo-Panamax containership: 120445 dwt", "wp": 1.0, "profit": 1383}
    ]
  },
  "spacing": 56,
  "vconcat": [
    {
      "spacing": 68,
      "bounds": "flush",
      "hconcat": [
        {
          "width": 1262,
          "height": 886,
          "layer": [
            {
              "data": {"name": "profit"},
              "transform": [{"filter": "datum.panel === 'HFHL'"}],
              "mark": {"type": "line", "interpolate": "cardinal", "opacity": 0.85},
              "encoding": {
                "x": {"field": "wp", "type": "quantitative", "scale": {"domain": [-0.1, 1.1], "nice": false, "zero": false},
                  "axis": {"title": null, "values": [-0.1, 0, 0.1, 0.2, 0.3, 0.4, 0.5, 0.6, 0.7, 0.8, 0.9, 1.0, 1.1], "labelExpr": "abs(round(datum.value * 10)) % 2 === 0 ? format(datum.value, '.1f') : ''"}},
                "y": {"field": "profit", "type": "quantitative", "scale": {"domain": [-5000, 2260], "nice": false, "zero": false},
                  "axis": {"title": "Profit, P", "values": [-5000, -4500, -4000, -3500, -3000, -2500, -2000, -1500, -1000, -500, 0, 500, 1000, 1500, 2000], "labelExpr": "datum.value % 1000 === 0 ? '' + datum.value : ''"}},
                "color": {"field": "series", "type": "nominal", "legend": {"title": null},
                  "scale": {"domain": ["Handy-size bulker:29538 dwt", "Handymax bulker:57025 dwt", "Feeder containership: 35038 dwt", "Neo-Panamax containership: 120445 dwt", "Handy-size bulker: 33945 dwt", "Panamax bulker: 88291 dwt", "Intermediate containership: 68191 dwt"],
                    "range": ["#660033", "#ff0000", "#ff800d", "#a0522d", "#3a7dc1", "#a75bbd", "#ffff00"]}},
                "strokeWidth": {"field": "series", "type": "nominal", "legend": {"title": null},
                  "scale": {"type": "ordinal", "domain": ["Handy-size bulker:29538 dwt", "Handymax bulker:57025 dwt", "Feeder containership: 35038 dwt", "Neo-Panamax containership: 120445 dwt", "Handy-size bulker: 33945 dwt", "Panamax bulker: 88291 dwt", "Intermediate containership: 68191 dwt"], "range": [3, 8, 3, 3, 3, 3, 3]}}
              }
            },
            {
              "data": {"name": "profit"},
              "transform": [{"filter": "datum.panel === 'HFHL'"}],
              "mark": {"type": "point", "shape": "triangle-up", "filled": true, "size": 550, "opacity": 1},
              "encoding": {
                "x": {"field": "wp", "type": "quantitative", "axis": {"title": null}},
                "y": {"field": "profit", "type": "quantitative", "axis": {"title": "Profit, P"}},
                "color": {"field": "series", "type": "nominal", "legend": null}
              }
            },
            {
              "data": {"values": [{}]},
              "mark": {"type": "text", "align": "left", "baseline": "middle", "fontSize": 62, "color": "#000"},
              "encoding": {"x": {"datum": 0}, "y": {"datum": 2000}, "text": {"value": "HFHL"}}
            },
            {
              "data": {"values": [{}]},
              "mark": {"type": "rule", "strokeWidth": 2.5, "color": "#000"},
              "encoding": {"x": {"datum": 1.083}, "x2": {"datum": 1.122}, "y": {"datum": -5284}, "y2": {"datum": -4803}}
            },
            {
              "data": {"values": [{}]},
              "mark": {"type": "rule", "strokeWidth": 2.5, "color": "#000"},
              "encoding": {"x": {"datum": 1.131}, "x2": {"datum": 1.172}, "y": {"datum": -5330}, "y2": {"datum": -4853}}
            }
          ]
        },
        {
          "width": 1264,
          "height": 886,
          "layer": [
            {
              "data": {"name": "profit"},
              "transform": [{"filter": "datum.panel === 'HFLL'"}],
              "mark": {"type": "line", "interpolate": "cardinal", "opacity": 0.85},
              "encoding": {
                "x": {"field": "wp", "type": "quantitative", "scale": {"domain": [-0.1, 1.1], "nice": false, "zero": false},
                  "axis": {"title": null, "values": [-0.1, 0, 0.1, 0.2, 0.3, 0.4, 0.5, 0.6, 0.7, 0.8, 0.9, 1.0, 1.1], "labelExpr": "abs(round(datum.value * 10)) % 2 === 0 ? format(datum.value, '.1f') : ''"}},
                "y": {"field": "profit", "type": "quantitative", "scale": {"domain": [-5000, 2260], "nice": false, "zero": false}, "axis": null},
                "color": {"field": "series", "type": "nominal", "legend": {"title": null},
                  "scale": {"domain": ["Handy-size bulker:29538 dwt", "Handymax bulker:57025 dwt", "Feeder containership: 35038 dwt", "Neo-Panamax containership: 120445 dwt", "Handy-size bulker: 33945 dwt", "Panamax bulker: 88291 dwt", "Intermediate containership: 68191 dwt"],
                    "range": ["#660033", "#ff0000", "#ff800d", "#a0522d", "#3a7dc1", "#a75bbd", "#ffff00"]}},
                "strokeWidth": {"field": "series", "type": "nominal", "legend": {"title": null},
                  "scale": {"type": "ordinal", "domain": ["Handy-size bulker:29538 dwt", "Handymax bulker:57025 dwt", "Feeder containership: 35038 dwt", "Neo-Panamax containership: 120445 dwt", "Handy-size bulker: 33945 dwt", "Panamax bulker: 88291 dwt", "Intermediate containership: 68191 dwt"], "range": [3, 8, 3, 3, 3, 3, 3]}}
              }
            },
            {
              "data": {"name": "profit"},
              "transform": [{"filter": "datum.panel === 'HFLL'"}],
              "mark": {"type": "point", "shape": "triangle-down", "filled": true, "size": 550, "opacity": 1},
              "encoding": {
                "x": {"field": "wp", "type": "quantitative", "axis": {"title": null}},
                "y": {"field": "profit", "type": "quantitative", "axis": null},
                "color": {"field": "series", "type": "nominal", "legend": null}
              }
            },
            {
              "data": {"values": [{}]},
              "mark": {"type": "text", "align": "left", "baseline": "middle", "fontSize": 62, "color": "#000"},
              "encoding": {"x": {"datum": 0.044}, "y": {"datum": 1960, "axis": {"domain": false, "ticks": false, "labels": false, "title": null, "grid": false}}, "text": {"value": "HFLL"}}
            }
          ]
        }
      ]
    },
    {
      "spacing": 68,
      "bounds": "flush",
      "hconcat": [
        {
          "width": 1262,
          "height": 886,
          "layer": [
            {
              "data": {"name": "profit"},
              "transform": [{"filter": "datum.panel === 'LFHL'"}],
              "mark": {"type": "line", "interpolate": "cardinal", "opacity": 0.85},
              "encoding": {
                "x": {"field": "wp", "type": "quantitative", "scale": {"domain": [-0.1, 1.1], "nice": false, "zero": false},
                  "axis": {"title": "Weighting coeffcient of profit, wₚ", "titleFontSize": 60, "titleX": 666, "values": [-0.1, 0, 0.1, 0.2, 0.3, 0.4, 0.5, 0.6, 0.7, 0.8, 0.9, 1.0, 1.1], "labelExpr": "abs(round(datum.value * 10)) % 2 === 0 ? format(datum.value, '.1f') : ''"}},
                "y": {"field": "profit", "type": "quantitative", "scale": {"domain": [-5000, 2260], "nice": false, "zero": false},
                  "axis": {"title": "Profit, P", "values": [-5000, -4500, -4000, -3500, -3000, -2500, -2000, -1500, -1000, -500, 0, 500, 1000, 1500, 2000], "labelExpr": "datum.value % 1000 === 0 ? '' + datum.value : ''"}},
                "color": {"field": "series", "type": "nominal", "legend": {"title": null},
                  "scale": {"domain": ["Handy-size bulker:29538 dwt", "Handymax bulker:57025 dwt", "Feeder containership: 35038 dwt", "Neo-Panamax containership: 120445 dwt", "Handy-size bulker: 33945 dwt", "Panamax bulker: 88291 dwt", "Intermediate containership: 68191 dwt"],
                    "range": ["#660033", "#ff0000", "#ff800d", "#a0522d", "#3a7dc1", "#a75bbd", "#ffff00"]}},
                "strokeWidth": {"field": "series", "type": "nominal", "legend": {"title": null},
                  "scale": {"type": "ordinal", "domain": ["Handy-size bulker:29538 dwt", "Handymax bulker:57025 dwt", "Feeder containership: 35038 dwt", "Neo-Panamax containership: 120445 dwt", "Handy-size bulker: 33945 dwt", "Panamax bulker: 88291 dwt", "Intermediate containership: 68191 dwt"], "range": [3, 8, 3, 3, 3, 3, 3]}}
              }
            },
            {
              "data": {"name": "profit"},
              "transform": [{"filter": "datum.panel === 'LFHL'"}],
              "mark": {"type": "point", "shape": "diamond", "filled": true, "size": 500, "opacity": 1},
              "encoding": {
                "x": {"field": "wp", "type": "quantitative", "axis": {"title": "Weighting coeffcient of profit, wₚ"}},
                "y": {"field": "profit", "type": "quantitative", "axis": {"title": "Profit, P"}},
                "color": {"field": "series", "type": "nominal", "legend": null}
              }
            },
            {
              "data": {"values": [{}]},
              "mark": {"type": "text", "align": "left", "baseline": "middle", "fontSize": 62, "color": "#000"},
              "encoding": {"x": {"datum": 0.005}, "y": {"datum": -3650}, "text": {"value": "LFHL"}}
            },
            {
              "data": {"values": [{}]},
              "mark": {"type": "rule", "strokeWidth": 2.5, "color": "#000"},
              "encoding": {"x": {"datum": 1.083}, "x2": {"datum": 1.122}, "y": {"datum": -5284}, "y2": {"datum": -4803}}
            },
            {
              "data": {"values": [{}]},
              "mark": {"type": "rule", "strokeWidth": 2.5, "color": "#000"},
              "encoding": {"x": {"datum": 1.131}, "x2": {"datum": 1.172}, "y": {"datum": -5330}, "y2": {"datum": -4853}}
            }
          ]
        },
        {
          "width": 1264,
          "height": 886,
          "layer": [
            {
              "data": {"name": "profit"},
              "transform": [{"filter": "datum.panel === 'LFLL'"}],
              "mark": {"type": "line", "interpolate": "cardinal", "opacity": 0.85},
              "encoding": {
                "x": {"field": "wp", "type": "quantitative", "scale": {"domain": [-0.1, 1.1], "nice": false, "zero": false},
                  "axis": {"title": "Weighting coeffcient of profit, wₚ", "titleFontSize": 60, "titleX": 664, "values": [-0.1, 0, 0.1, 0.2, 0.3, 0.4, 0.5, 0.6, 0.7, 0.8, 0.9, 1.0, 1.1], "labelExpr": "abs(round(datum.value * 10)) % 2 === 0 ? format(datum.value, '.1f') : ''"}},
                "y": {"field": "profit", "type": "quantitative", "scale": {"domain": [-5000, 2260], "nice": false, "zero": false}, "axis": null},
                "color": {"field": "series", "type": "nominal", "legend": {"title": null},
                  "scale": {"domain": ["Handy-size bulker:29538 dwt", "Handymax bulker:57025 dwt", "Feeder containership: 35038 dwt", "Neo-Panamax containership: 120445 dwt", "Handy-size bulker: 33945 dwt", "Panamax bulker: 88291 dwt", "Intermediate containership: 68191 dwt"],
                    "range": ["#660033", "#ff0000", "#ff800d", "#a0522d", "#3a7dc1", "#a75bbd", "#ffff00"]}},
                "strokeWidth": {"field": "series", "type": "nominal", "legend": {"title": null},
                  "scale": {"type": "ordinal", "domain": ["Handy-size bulker:29538 dwt", "Handymax bulker:57025 dwt", "Feeder containership: 35038 dwt", "Neo-Panamax containership: 120445 dwt", "Handy-size bulker: 33945 dwt", "Panamax bulker: 88291 dwt", "Intermediate containership: 68191 dwt"], "range": [3, 8, 3, 3, 3, 3, 3]}}
              }
            },
            {
              "data": {"name": "profit"},
              "transform": [{"filter": "datum.panel === 'LFLL'"}],
              "mark": {"type": "point", "shape": "M0,-1L0.2245,-0.309L0.9511,-0.309L0.3633,0.118L0.5878,0.809L0,0.382L-0.5878,0.809L-0.3633,0.118L-0.9511,-0.309L-0.2245,-0.309Z", "filled": true, "size": 520, "opacity": 1},
              "encoding": {
                "x": {"field": "wp", "type": "quantitative", "axis": {"title": "Weighting coeffcient of profit, wₚ"}},
                "y": {"field": "profit", "type": "quantitative", "axis": null},
                "color": {"field": "series", "type": "nominal", "legend": null}
              }
            },
            {
              "data": {"values": [{}]},
              "mark": {"type": "text", "align": "left", "baseline": "middle", "fontSize": 62, "color": "#000"},
              "encoding": {"x": {"datum": 0.026}, "y": {"datum": -3685, "axis": {"domain": false, "ticks": false, "labels": false, "title": null, "grid": false}}, "text": {"value": "LFLL"}}
            }
          ]
        }
      ]
    }
  ]
}
